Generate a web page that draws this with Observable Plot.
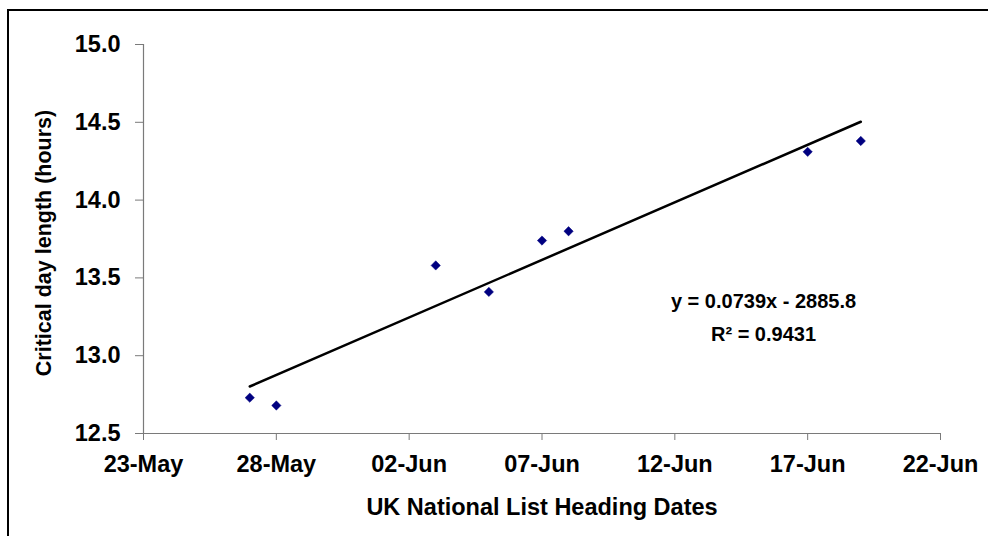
<!DOCTYPE html>
<html><head><meta charset="utf-8">
<script src="https://cdn.jsdelivr.net/npm/d3@7"></script>
<script src="https://cdn.jsdelivr.net/npm/@observablehq/plot@0.6"></script>
<style>
body{margin:0;background:#fff;}
#wrap{position:relative;width:988px;height:536px;overflow:hidden;background:#fff;}
#frame{position:absolute;left:7px;top:9px;width:1000px;height:600px;border-left:2px solid #000;border-top:2px solid #000;pointer-events:none;}
#wrap svg{position:absolute;left:0;top:0;}
</style></head><body><div id="wrap"><div id="frame"></div></div>
<script>
const headingDates = ["2007-05-27","2007-05-28","2007-06-03","2007-06-05","2007-06-07","2007-06-08","2007-06-17","2007-06-19"];
const dayLength = [12.73, 12.68, 13.58, 13.41, 13.74, 13.80, 14.31, 14.38];
const xTickDates = ["2007-05-23","2007-05-28","2007-06-02","2007-06-07","2007-06-12","2007-06-17","2007-06-22"];
const yTicks = [12.5, 13.0, 13.5, 14.0, 14.5, 15.0];
const equationLines = ["y = 0.0739x - 2885.8", "R² = 0.9431"];
const xLabel = "UK National List Heading Dates";
const yLabel = "Critical day length (hours)";

const parse = d3.utcParse("%Y-%m-%d");
const data = headingDates.map((d, i) => ({date: parse(d), value: dayLength[i]}));
const xTicks = xTickDates.map(parse);
const yMin = yTicks[0], yMax = yTicks[yTicks.length - 1];

// least-squares trend line computed from the data
const xs = data.map(d => +d.date), ys = data.map(d => d.value);
const mx = d3.mean(xs), my = d3.mean(ys);
const slope = d3.sum(xs, (x, i) => (x - mx) * (ys[i] - my)) / d3.sum(xs, x => (x - mx) ** 2);
const trend = d3.extent(xs).map(x => ({date: new Date(x), value: my + slope * (x - mx)}));

const axisGrey = "#7a7a7a";
const chart = Plot.plot({
  width: 988,
  height: 536,
  marginLeft: 143,
  marginRight: 48,
  marginTop: 44,
  marginBottom: 103,
  style: {fontFamily: "'Liberation Sans', Arial, sans-serif", fontSize: "23.5px", fontWeight: "bold", background: "transparent", color: "#000"},
  x: {type: "utc", domain: [xTicks[0], xTicks[xTicks.length - 1]]},
  y: {domain: [yMin, yMax]},
  marks: [
    Plot.axisX({ticks: xTicks, tickFormat: d3.utcFormat("%d-%b"), tickSize: 7, tickPadding: 15, stroke: axisGrey, fill: "#000", label: null}),
    Plot.axisY({ticks: yTicks, tickFormat: d3.format(".1f"), tickSize: 8, tickPadding: 15, stroke: axisGrey, fill: "#000", label: null}),
    Plot.ruleY([yMin], {stroke: axisGrey, strokeWidth: 1.2}),
    Plot.ruleX([xTicks[0]], {stroke: axisGrey, strokeWidth: 1.2}),
    Plot.text([xLabel], {frameAnchor: "bottom", dy: 74, textAnchor: "middle", lineAnchor: "middle", fontSize: 23.5, fill: "#000"}),
    Plot.text([yLabel], {frameAnchor: "left", dx: -99, dy: 4, rotate: -90, textAnchor: "middle", lineAnchor: "middle", fontSize: 21.5, fill: "#000"}),
    Plot.line(trend, {x: "date", y: "value", stroke: "#000", strokeWidth: 2.5}),
    Plot.dot(data, {x: "date", y: "value", symbol: "diamond2", r: 4.2, fill: "#000080", stroke: "#000080", strokeWidth: 0.5}),
    Plot.text([equationLines[0]], {frameAnchor: "top-left", dx: 620, dy: 257, textAnchor: "middle", lineAnchor: "middle", fontSize: 20, fill: "#000"}),
    Plot.text([equationLines[1]], {frameAnchor: "top-left", dx: 620, dy: 290, textAnchor: "middle", lineAnchor: "middle", fontSize: 20, fill: "#000"})
  ]
});
document.getElementById("wrap").appendChild(chart);
</script>
</body></html>
